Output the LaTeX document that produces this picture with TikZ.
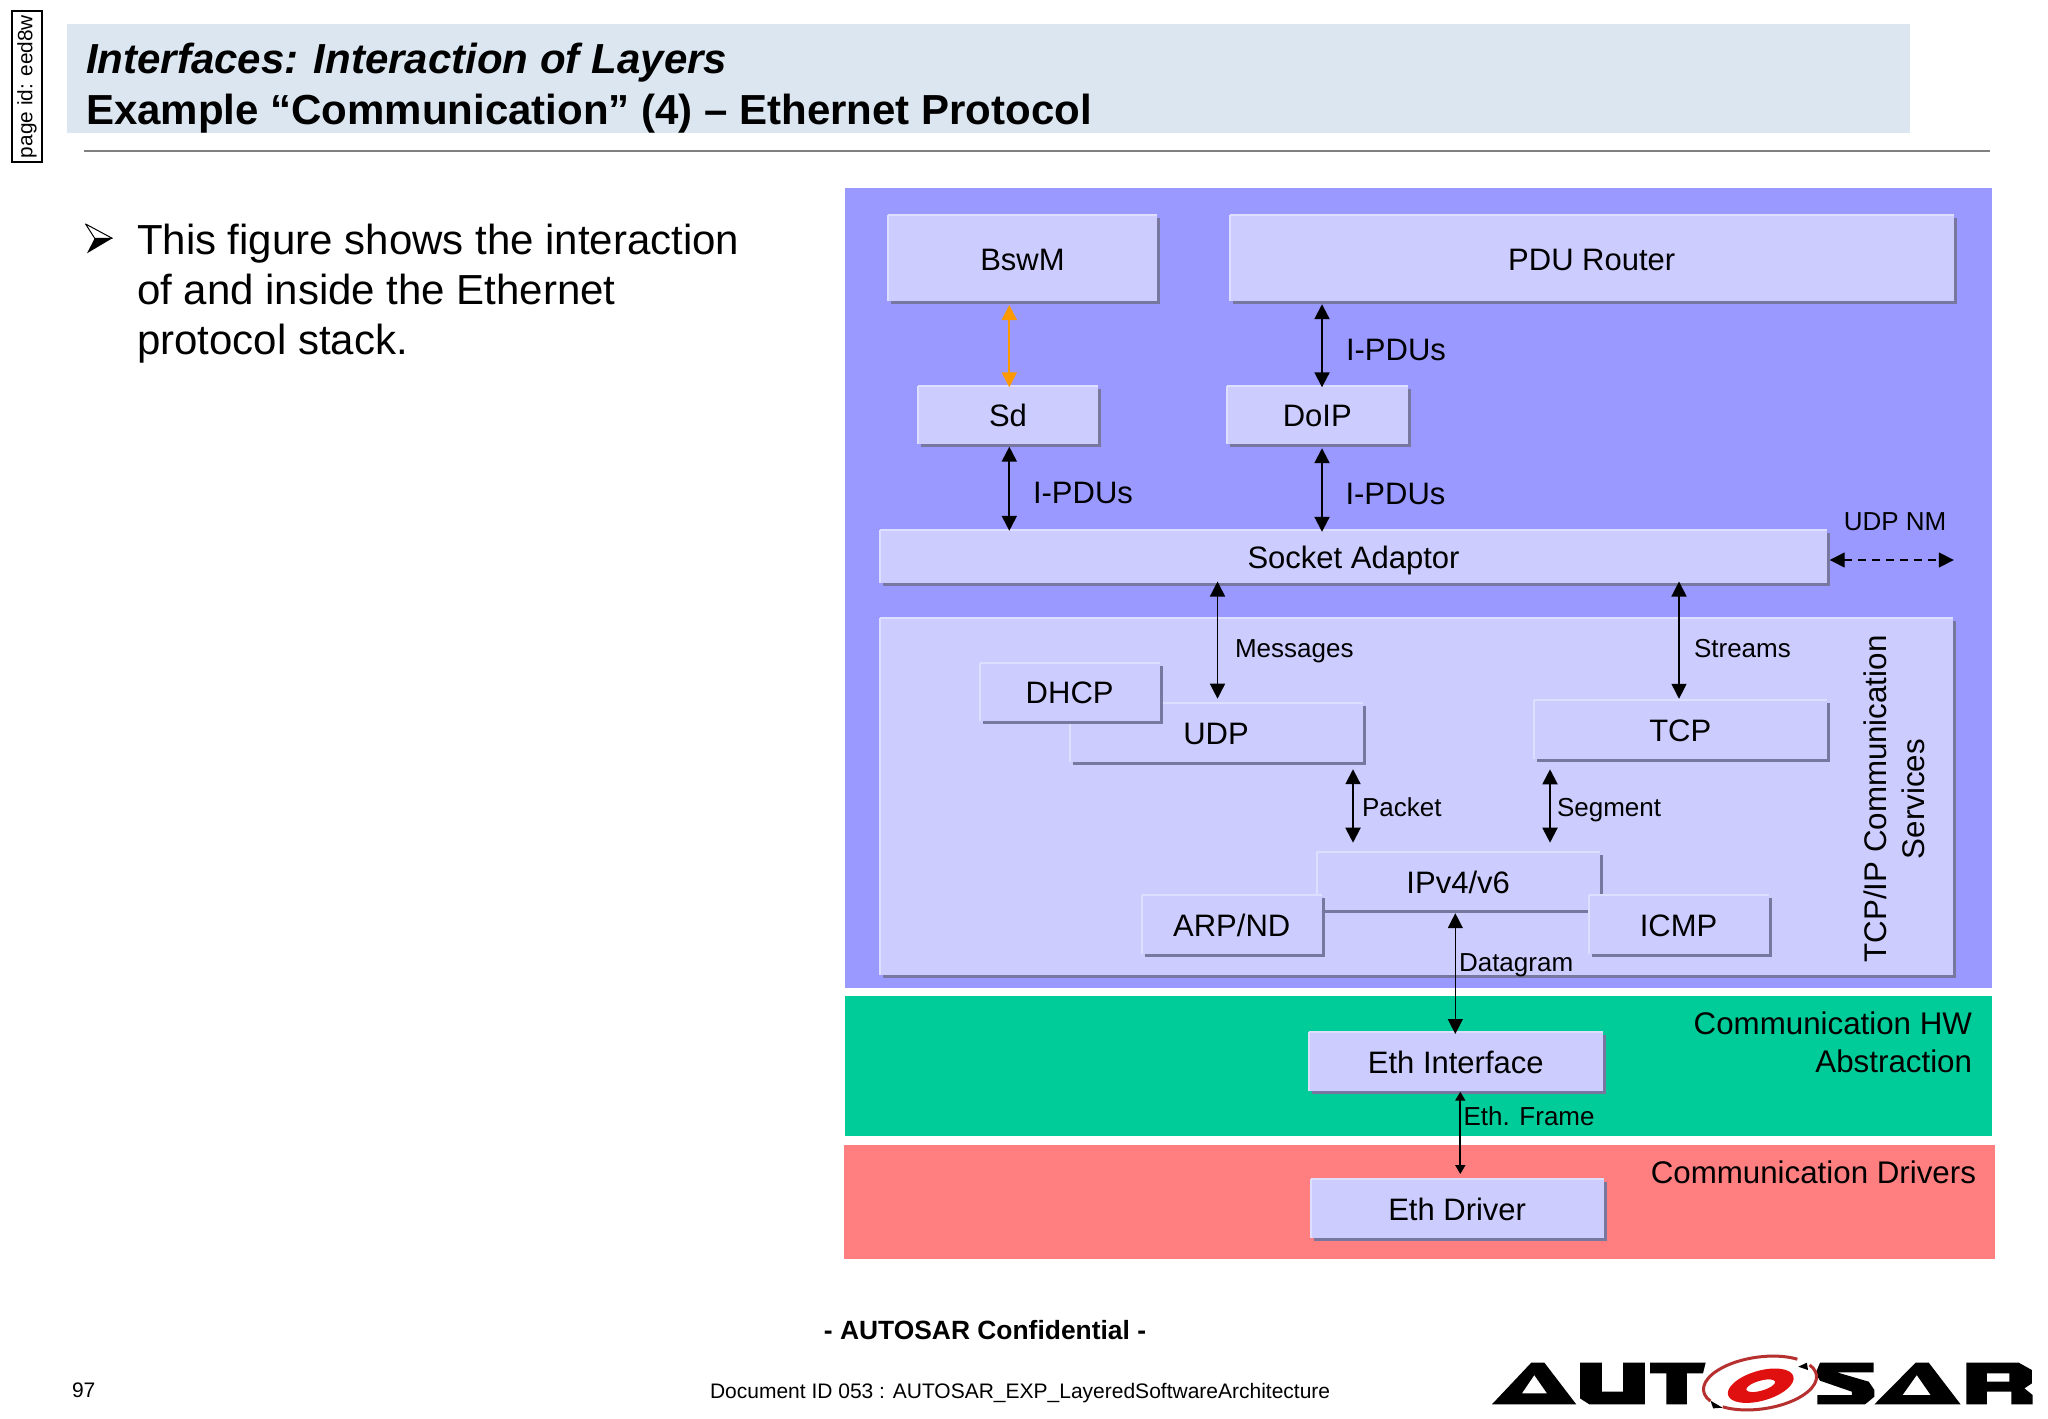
\documentclass[tikz,border=0pt]{standalone}
\usepackage{fontspec}
\setmainfont{Liberation Sans}
\usetikzlibrary{arrows.meta,shadows}
\definecolor{panelblue}{HTML}{9999FF}
\definecolor{boxfill}{HTML}{CCCCFF}
\definecolor{boxlight}{HTML}{DEDEFF}
\definecolor{boxshadow}{HTML}{77779F}
\definecolor{hwgreen}{HTML}{00CC99}
\definecolor{drvred}{HTML}{FF7F80}
\definecolor{titlebar}{HTML}{DCE6F1}
\definecolor{orangearrow}{HTML}{FF9900}
\definecolor{logored}{HTML}{E01010}
\definecolor{logoring}{HTML}{B5302E}
\newcommand{\fsz}[2]{\fontsize{#1}{#2}\selectfont}
\tikzset{
  box/.style={rectangle,fill=boxfill,draw=none,inner sep=0pt,outer sep=0pt,
    font=\fsz{15.5}{19},text height=12pt,text depth=0pt,
    drop shadow={shadow xshift=1.5pt,shadow yshift=-1.5pt,fill=boxshadow,opacity=1},
    append after command={
      (\tikzlastnode.south west) edge[boxlight,line width=1pt] (\tikzlastnode.north west)
      (\tikzlastnode.north west) edge[boxlight,line width=1pt] (\tikzlastnode.north east)}},
  lab/.style={inner sep=0pt,outer sep=0pt,anchor=west,font=\fsz{15.5}{19},text height=11.1pt,text depth=0pt},
  slab/.style={lab,font=\fsz{13}{16},text height=9.3pt},
  big/.style={inner sep=0pt,outer sep=0pt,font=\fsz{15.65}{19}},
  dbl/.style={line width=1pt,{Triangle[width=7.5pt,length=7.5pt]}-{Triangle[width=7.5pt,length=7.5pt]}},
  thin dbl/.style={dbl,line width=.7pt},
  small dbl/.style={line width=1pt,{Triangle[width=5pt,length=4.5pt]}-{Triangle[width=5pt,length=4.5pt]}},
  foot/.style={inner sep=0pt,outer sep=0pt,font=\fsz{10.5}{13}}
}
% name, x1,y1,x2,y2 (pixels), text
\newcommand{\mybox}[6]{\node[box,minimum width={(#4-#2-2)*0.5pt},minimum height={(#5-#3-1.5)*0.5pt}] (#1) at ({(#2+#4-2)/2},{(#3+#5-1.5)/2}) {#6};}
\begin{document}
\begin{tikzpicture}[x=0.5pt,y=-0.5pt]
\useasboundingbox (0,0) rectangle (2048,1418);
\fill[white] (0,0) rectangle (2048,1418);
% header
\node[draw=black,line width=.7pt,inner sep=0pt,outer sep=0pt,minimum width=75.5pt,minimum height=15pt,rotate=90,font=\fsz{10.4}{13}] (pageid) at (27,86.5) {page id: eed8w};
\fill[titlebar] (66.7,24) rectangle (1910,133.3);
\node[inner sep=0pt,outer sep=0pt,anchor=west,align=left,font=\fsz{21}{25.5}\bfseries] (title) at (86,88.5) {{\itshape Interfaces: Interaction of Layers}\\Example “Communication” (4) – Ethernet Protocol};
\draw[gray,line width=.8pt] (84,150.7) -- (1990,150.7);
% bullet
\fill[black] (94.7,238.3) -- (112.3,238.3) -- (87,253.3) -- cycle;
\draw[black,line width=.5pt,line join=round] (85.6,224) -- (112.3,238.3) -- (94.7,238.3) -- cycle;
\node[inner sep=0pt,outer sep=0pt,anchor=west,align=left,font=\fsz{21}{25}] (body) at (137,294) {This figure shows the interaction\\of and inside the Ethernet\\protocol stack.};
% layer panels
\fill[panelblue] (845,187.7) rectangle (1992,987.7);
\fill[hwgreen] (845,996) rectangle (1992,1136);
\fill[drvred] (844,1145.3) rectangle (1995,1259.3);
% boxes
\mybox{bswm}{888}{215.3}{1158.9}{302.7}{BswM}
\mybox{pdu}{1230}{215.3}{1955.5}{302.7}{PDU Router}
\mybox{sd}{918}{385.7}{1100}{445.7}{Sd}
\mybox{doip}{1227}{385.7}{1409.5}{445.7}{DoIP}
\mybox{socket}{880}{530}{1829}{584}{Socket Adaptor}
\mybox{inner}{880}{618}{1955}{976}{}
\mybox{udp}{1069.5}{703.3}{1364.5}{763.3}{UDP}
\mybox{dhcp}{979.5}{662.7}{1161.8}{722.3}{DHCP}
\mybox{tcp}{1534}{700}{1828.5}{760}{TCP}
\mybox{ipv}{1316.8}{852.3}{1601.5}{911.7}{IPv4/v6}
\mybox{arp}{1141.9}{895}{1323.5}{955}{ARP/ND}
\mybox{icmp}{1588.5}{895}{1770.5}{955}{ICMP}
\mybox{ethif}{1309}{1032}{1604.5}{1092}{Eth Interface}
\mybox{ethdrv}{1310.5}{1179}{1605.8}{1239.3}{Eth Driver}
% arrow columns
\coordinate (xsd) at (1009.3,0);
\coordinate (xdo) at (1322,0);
\coordinate (xmsg) at (1217.5,0);
\coordinate (xstr) at (1679,0);
\coordinate (xpkt) at (1353,0);
\coordinate (xseg) at (1550,0);
\coordinate (xdat) at (1455.3,0);
\coordinate (xfrm) at (1460.3,0);
\coordinate (nmend) at (1953.8,560);
\coordinate (nmy) at (0,560);
% connectors
\draw[dbl,orangearrow,shorten <=1.9pt,shorten >=-.8pt] (bswm.south -| xsd) -- (sd.north -| xsd);
\draw[dbl,shorten <=1.5pt,shorten >=-.8pt] (pdu.south -| xdo) -- (doip.north -| xdo);
\draw[dbl,shorten <=1.25pt,shorten >=-.4pt] (sd.south -| xsd) -- (socket.north -| xsd);
\draw[dbl,shorten <=2pt,shorten >=-.9pt] (doip.south -| xdo) -- (socket.north -| xdo);
\draw[thin dbl,shorten <=-.5pt,shorten >=2.3pt] (socket.south -| xmsg) -- (udp.north -| xmsg);
\draw[thin dbl,shorten <=-.5pt,shorten >=.6pt] (socket.south -| xstr) -- (tcp.north -| xstr);
\draw[dbl,shorten <=3.7pt,shorten >=4.8pt] (udp.south -| xpkt) -- (ipv.north -| xpkt);
\draw[dbl,shorten <=5.4pt,shorten >=4.8pt] (tcp.south -| xseg) -- (ipv.north -| xseg);
\draw[thin dbl,shorten <=1.5pt,shorten >=-1pt] (ipv.south -| xdat) -- (ethif.north -| xdat);
\draw[small dbl,shorten <=.6pt,shorten >=2.5pt] (ethif.south -| xfrm) -- (ethdrv.north -| xfrm);
\draw[thin dbl,dash pattern=on 4pt off 3pt,shorten <=1.35pt] (socket.east |- nmy) -- (nmend);
% connector labels
\node[lab] (l1) at (1346,349.3) {I-PDUs};
\node[lab] (l2) at (1033,492.7) {I-PDUs};
\node[lab] (l3) at (1345.5,493.3) {I-PDUs};
\node[slab,anchor=center] (l4) at (1895,521) {UDP NM};
\node[slab] (l5) at (1235,648) {Messages};
\node[slab] (l6) at (1694,648) {Streams};
\node[slab] (l7) at (1362,807) {Packet};
\node[slab] (l8) at (1557,807) {Segment};
\node[slab] (l9) at (1459,962.5) {Datagram};
\node[slab] (l10) at (1463.6,1116) {Eth. Frame};
% layer labels
\node[big,rotate=90,align=center] (tcpip) at (1894,799) {TCP/IP Communication\\Services};
\node[big,anchor=east,align=right] (hwabs) at (1972,1042.5) {Communication HW\\Abstraction};
\node[big,anchor=east] (drv) at (1976,1172.7) {Communication Drivers};
% footer
\node[inner sep=0pt,outer sep=0pt,font=\fsz{13.2}{16}\bfseries] (conf) at (985,1330.5) {- AUTOSAR Confidential -};
\node[foot,anchor=west] (page) at (72,1390.5) {97};
\node[foot,anchor=west] (docid) at (710,1393) {Document ID 053 : AUTOSAR\_EXP\_LayeredSoftwareArchitecture};
% logo
\begin{scope}[shift={(1460,1340)},x=0.1875pt,y=-0.1667pt]
\fill[black,even odd rule] (85,193) -- (190,68) -- (225,68) -- (310,193) -- cycle (165,160) -- (232,160) -- (198,105) -- cycle;
\fill[black] (320,68) -- (378,68) -- (378,155) -- (435,155) -- (435,68) -- (493,68) -- (493,193) -- (345,193) -- (320,175) -- cycle;
\fill[black] (507,68) -- (655,68) -- (648,100) -- (605,100) -- (605,193) -- (550,193) -- (550,100) -- (507,100) -- cycle;
\fill[black] (960,68) -- (1103,68) -- (1103,97) -- (1005,97) -- (1090,125) -- (1105,150) -- (1105,170) -- (1080,193) -- (953,193) -- (953,165) -- (1045,165) -- (1045,155) -- (960,122) -- (948,100) -- cycle;
\fill[black,even odd rule] (1105,193) -- (1215,68) -- (1250,68) -- (1335,193) -- cycle (1180,165) -- (1255,165) -- (1218,105) -- cycle;
\fill[black,even odd rule] (1350,68) -- (1490,68) -- (1525,90) -- (1525,130) -- (1505,145) -- (1527,165) -- (1527,193) -- (1470,193) -- (1470,155) -- (1405,155) -- (1405,193) -- (1350,193) -- cycle (1405,100) -- (1465,100) -- (1465,125) -- (1405,125) -- cycle;
\fill[black] (902,80) -- (925,68) -- (928,90) -- cycle;
\fill[black] (668,182) -- (700,203) -- (675,205) -- cycle;
\end{scope}
\fill[logored,even odd rule,rotate around={16:(1760.7,1385.7)}] (1760.7,1385.7) ellipse [x radius=34,y radius=15] (1760.7,1385.7) ellipse [x radius=15,y radius=5];
\begin{scope}[shift={(1760,1383)},rotate=8,x=0.5pt,y=0.5pt]
\draw[logoring,line width=1.5pt] (45:57 and 26) arc[start angle=45,end angle=205,x radius=57,y radius=26];
\draw[logoring,line width=1.5pt] (225:57 and 26) arc[start angle=225,end angle=385,x radius=57,y radius=26];
\end{scope}
\end{tikzpicture}
\end{document}
